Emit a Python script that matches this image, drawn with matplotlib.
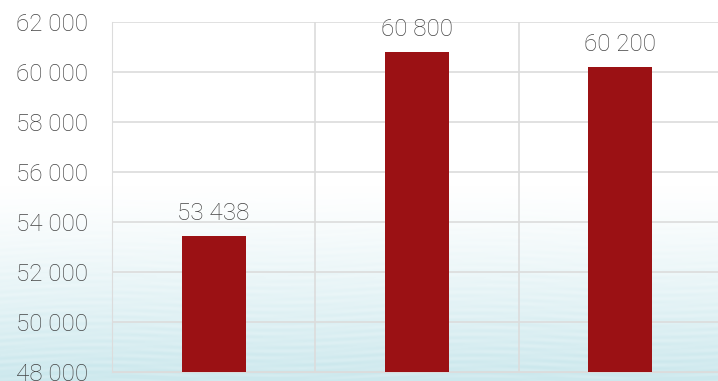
import numpy as np
import matplotlib.pyplot as plt
from matplotlib.ticker import FuncFormatter

categories = ["A", "B", "C"]
values = [53438, 60800, 60200]
yticks = [48000, 50000, 52000, 54000, 56000, 58000, 60000, 62000]

plt.rcParams['font.family'] = ['Roboto', 'DejaVu Sans']

fig = plt.figure(figsize=(7.18, 3.81), dpi=100)

# watery background: white at the top, pale blue towards the bottom
bg = fig.add_axes([0, 0, 1, 1], zorder=-10)
h, w = 381, 718
yy, xx = np.mgrid[0:h, 0:w]
t = np.clip((yy - 185) / (h - 185), 0, 1) ** 1.2
streak = 0.5 + 0.5 * np.sin(yy * 0.9 + 3 * np.sin(xx / 60.0)) * np.sin(xx / 35.0 + yy / 7.0)
t = np.clip(t * (0.85 + 0.25 * streak), 0, 1)
top = np.array([1.0, 1.0, 1.0])
bottom = np.array([0.80, 0.91, 0.93])
img = top[None, None, :] * (1 - t[..., None]) + bottom[None, None, :] * t[..., None]
bg.imshow(img, aspect='auto', extent=[0, 1, 0, 1], origin='upper')
bg.axis('off')

ax = fig.add_axes([112 / 718, 9 / 381, 610 / 718, 350 / 381])
ax.patch.set_alpha(0)

x = np.arange(len(categories))
ax.bar(x, values, width=0.315, color='#9b1114', zorder=3)

for xi, v in zip(x, values):
    ax.annotate(f"{v:,}".replace(",", " "), (xi, v), xytext=(0, 8),
                textcoords='offset points', ha='center', va='bottom',
                fontsize=17.5, color='#444444', fontweight='light')

ax.set_xlim(-0.5, 2.5)
ax.set_ylim(48000, 62000)
ax.set_yticks(yticks)
ax.yaxis.set_major_formatter(FuncFormatter(lambda v, p: f"{int(v):,}".replace(",", " ")))
ax.set_xticks([-0.5, 0.5, 1.5, 2.5])
ax.set_xticklabels([])
ax.tick_params(axis='both', length=0)
ax.tick_params(axis='y', pad=17, labelsize=17.5, labelcolor='#444444')
for lab in ax.get_yticklabels():
    lab.set_fontweight('light')

ax.grid(True, color='#dcdcdc', linewidth=1.2, zorder=0)
for s in ax.spines.values():
    s.set_visible(False)
ax.spines['left'].set_visible(True)
ax.spines['left'].set_color('#dcdcdc')
ax.spines['bottom'].set_visible(True)
ax.spines['bottom'].set_color('#dcdcdc')

fig.savefig("out.png", dpi=100)
